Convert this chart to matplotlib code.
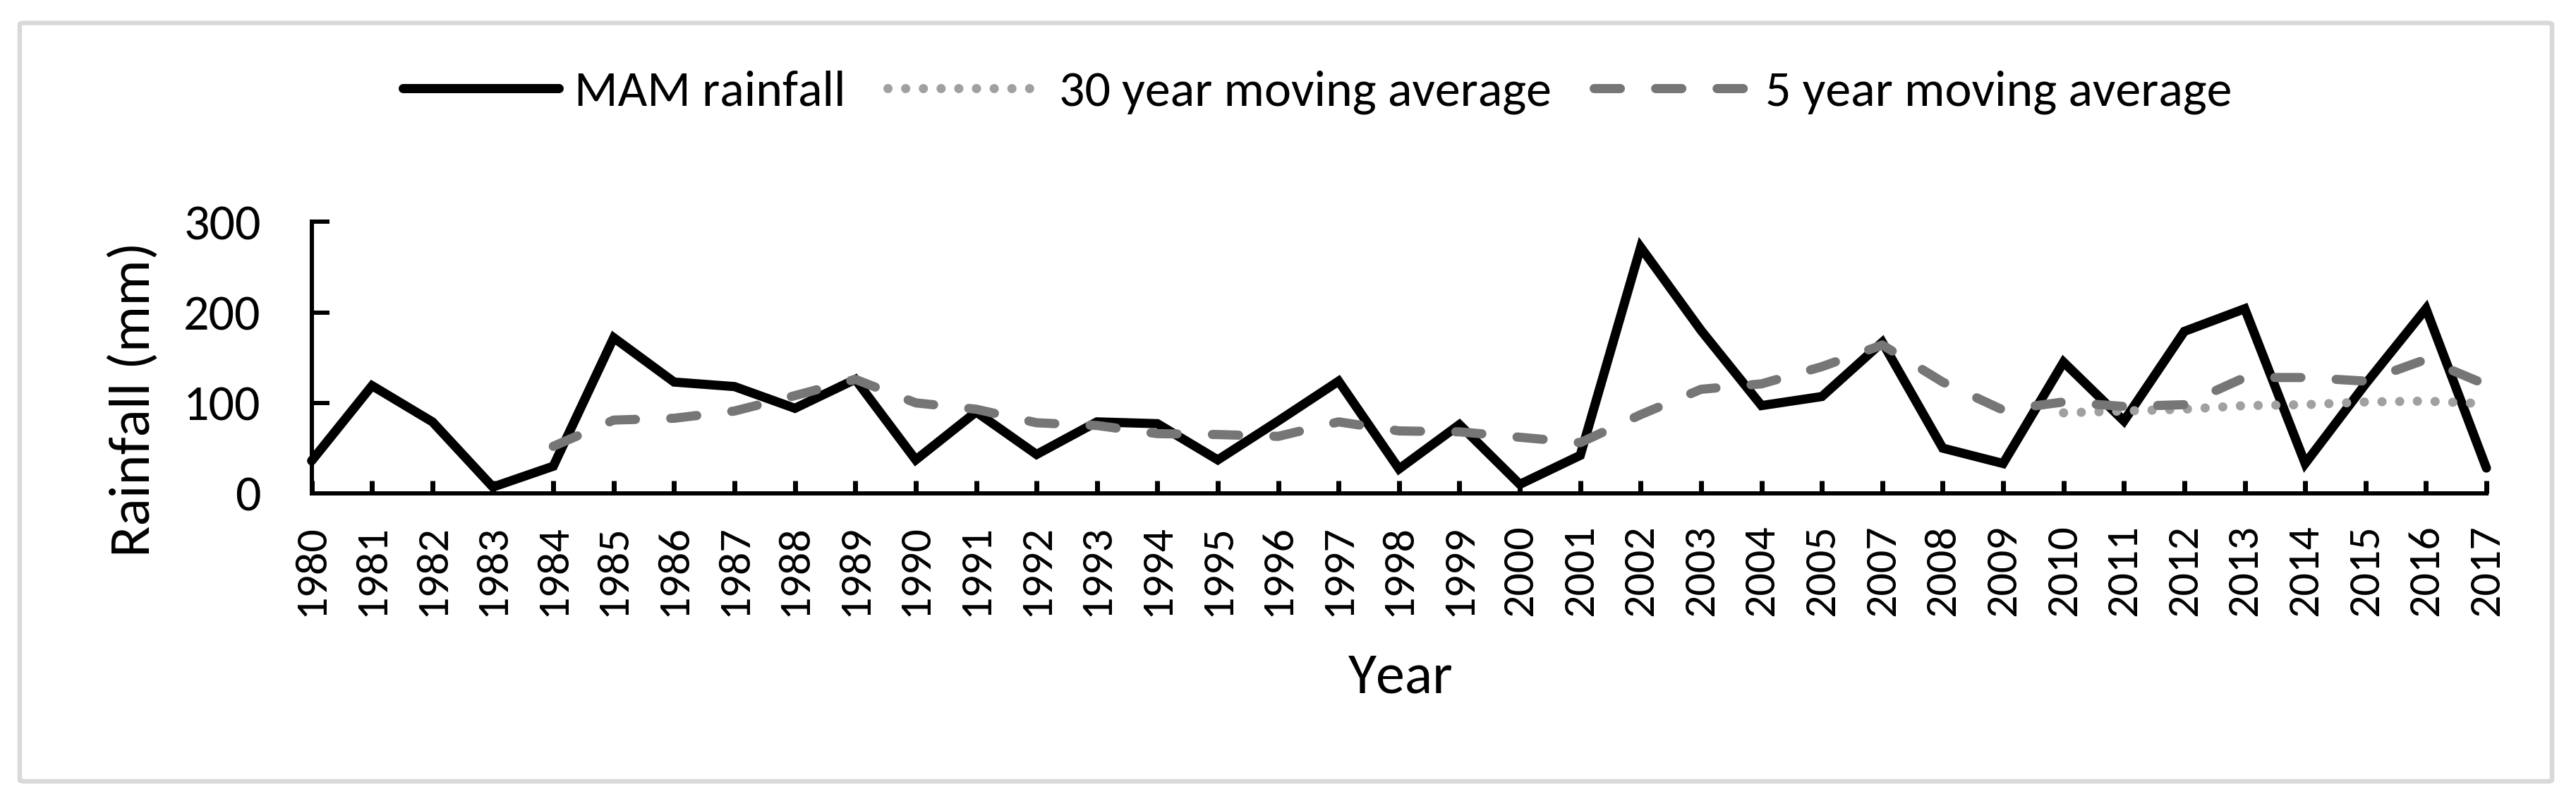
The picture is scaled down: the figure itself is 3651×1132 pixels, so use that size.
import matplotlib
matplotlib.use('Agg')
import matplotlib.pyplot as plt
from matplotlib import font_manager
from matplotlib.patches import FancyBboxPatch
import numpy as np

# ---------------- data ----------------
years = ['1980', '1981', '1982', '1983', '1984', '1985', '1986', '1987', '1988', '1989',
         '1990', '1991', '1992', '1993', '1994', '1995', '1996', '1997', '1998', '1999',
         '2000', '2001', '2002', '2003', '2004', '2005', '2007', '2008', '2009', '2010',
         '2011', '2012', '2013', '2014', '2015', '2016', '2017']

mam_rainfall = [36, 119, 79, 7, 30, 172, 123, 118, 94, 126,
                37, 90, 43, 79, 77, 37, 80, 124, 27, 76,
                10, 42, 272, 180, 97, 107, 167, 50, 33, 145,
                80, 179, 204, 33, 121, 204, 28]

ma30 = [None] * 29 + [89, 91, 93, 97, 98, 101, 102, 99]

ma5 = [None] * 4 + [52, 81, 83, 91, 108, 126,
                    100, 93, 78, 75, 66, 65, 63, 79, 69, 68,
                    62, 56, 87, 115, 121, 140, 164, 123, 92, 101,
                    96, 98, 128, 128, 124, 148, 120]

legend_labels = ['MAM rainfall', '30 year moving average', '5 year moving average']
y_ticks = [0, 100, 200, 300]
x_title = 'Year'
y_title = 'Rainfall (mm)'

# ---------------- font ----------------
def pick_font():
    for f in ['Carlito', 'Calibri', 'Lato']:
        try:
            font_manager.findfont(f, fallback_to_default=False)
            return f
        except Exception:
            pass
    return 'DejaVu Sans'

FONT = pick_font()
k = 1.0 if FONT in ('Carlito', 'Calibri') else 0.9
plt.rcParams['font.family'] = [FONT, 'DejaVu Sans']

PX = 0.72  # points per pixel at dpi 100
fs_ytick = 72 * PX * k
fs_xtick = 64 * PX * k
fs_leg = 72 * PX * k
fs_title = 82 * PX * k

W, H = 3651, 1132
fig = plt.figure(figsize=(W / 100, H / 100), dpi=100)
fig.patch.set_facecolor('white')

# chart border
border = FancyBboxPatch((28 / W, 1 - 1107 / H), (3617 - 28) / W, (1107 - 32.5) / H,
                        boxstyle='round,pad=0,rounding_size=0.002',
                        transform=fig.transFigure, fill=False,
                        edgecolor='#D9D9D9', linewidth=6.5 * PX, zorder=0)
fig.patches.append(border)

ax_left, ax_right = 441.7 / W, 3524 / W
ax_bottom, ax_top = 1 - 699 / H, 1 - 314.3 / H
ax = fig.add_axes([ax_left, ax_bottom, ax_right - ax_left, ax_top - ax_bottom])

x = np.arange(len(years))
lw = 13 * PX

def to_arr(v):
    return np.array([np.nan if a is None else a for a in v], dtype=float)

l1, = ax.plot(x, mam_rainfall, color='black', lw=lw, solid_joinstyle='miter',
              solid_capstyle='round', label=legend_labels[0], zorder=3, clip_on=False)
l2, = ax.plot(x, to_arr(ma30), color='#A0A0A0', lw=lw, ls=(0, (0.01, 1.92)),
              dash_capstyle='round', label=legend_labels[1], zorder=4, clip_on=False)
l3, = ax.plot(x, to_arr(ma5), color='#767676', lw=lw, ls=(0, (2.85, 3.85)),
              dash_capstyle='round', label=legend_labels[2], zorder=5, clip_on=False)

ax.set_xlim(0, len(years) - 1)
ax.set_ylim(0, 300)
ax.set_yticks(y_ticks)
ax.set_yticklabels([str(t) for t in y_ticks], fontsize=fs_ytick)
ax.set_xticks(x)
ax.set_xticklabels(years, rotation=90, fontsize=fs_xtick)

for s in ['top', 'right']:
    ax.spines[s].set_visible(False)
for s in ['left', 'bottom']:
    ax.spines[s].set_linewidth(6 * PX)
    ax.spines[s].set_capstyle('projecting')
    ax.spines[s].set_zorder(6)

ax.tick_params(axis='y', direction='in', length=25 * PX, width=6 * PX, pad=72 * PX)
ax.tick_params(axis='x', direction='in', length=18 * PX, width=7 * PX, pad=44 * PX)

fig.text(190 / W, 0.5, y_title, rotation=90, ha='center', va='center', fontsize=fs_title)
fig.text(1985 / W, 1 - 982 / H, x_title, ha='center', va='baseline', fontsize=fs_title)

em_leg = fs_leg / PX
leg = fig.legend(handles=[l1, l2, l3], labels=legend_labels, loc='center',
                 bbox_to_anchor=(((562 + 3172) / 2) / W, 1 - 131 / H),
                 ncol=3, frameon=False, fontsize=fs_leg,
                 handlelength=221 / em_leg, handletextpad=22 / em_leg,
                 columnspacing=60 / em_leg, borderaxespad=0)

fig.savefig('out.png', dpi=100, facecolor='white')
